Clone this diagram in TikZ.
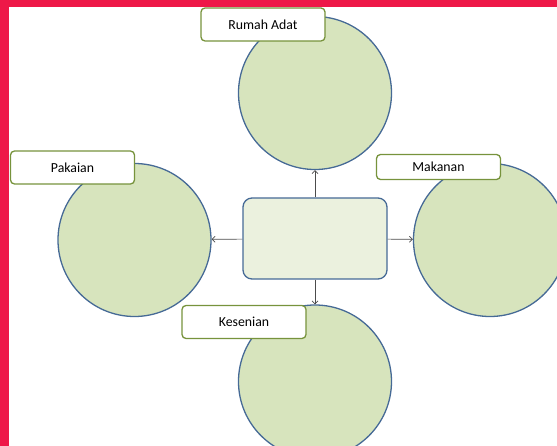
\documentclass[tikz,border=0pt]{standalone}
\usepackage{fontspec}
\setmainfont{Carlito}
\usetikzlibrary{arrows.meta}
\definecolor{merah}{RGB}{238,24,72}
\definecolor{hijaumuda}{RGB}{215,228,189}
\definecolor{hijaupucat}{RGB}{235,241,222}
\definecolor{garisbiru}{RGB}{70,106,150}
\definecolor{garishijau}{RGB}{119,147,60}

\begin{document}
\begin{tikzpicture}[
        x=1pt,y=-1pt,
        lingkaran/.style={circle,draw=garisbiru,line width=1.3pt,fill=hijaumuda,
          minimum size=153pt,inner sep=0pt},
        kotak/.style={rectangle,rounded corners=9pt,draw=garisbiru,line width=1.3pt,
          fill=hijaupucat,minimum width=144pt,minimum height=81pt},
        judul/.style={rectangle,rounded corners=4pt,draw=garishijau,line width=1.3pt,
          fill=white,minimum width=124pt,minimum height=33pt,inner sep=0pt,
          font=\fontsize{13.8}{16}\selectfont},
        panah/.style={-{Straight Barb[length=3pt,width=6pt]},draw=black!70,line width=0.7pt}]
        % batas gambar
        \useasboundingbox (0,0) rectangle (557,446);
        \clip (0,0) rectangle (557,446);
        % bingkai merah
        \fill[merah] (0,0) rectangle (9,446);
        \fill[merah] (0,0) rectangle (557,7);
        % empat lingkaran
        \node[lingkaran] (atas) at (315,93) {};
        \node[lingkaran] (kiri) at (134.5,240) {};
        \node[lingkaran] (kanan) at (490,240) {};
        \node[lingkaran] (bawah) at (315,381.5) {};
        % kotak tengah
        \node[kotak] (pusat) at (315,238.5) {};
        % panah dari kotak ke lingkaran
        \draw[panah] (pusat) -- (atas);
        \draw[panah] (pusat) -- (kiri);
        \draw[panah] (pusat) -- (kanan);
        \draw[panah] (pusat) -- (bawah);
        % label
        \node[judul] (rumah) at (263,24.5) {Rumah Adat};
        \node[judul] (pakaian) at (72.5,167.5) {Pakaian};
        \node[judul,minimum height=25pt] (makanan) at (438.5,167) {Makanan};
        \node[judul] (kesenian) at (244,322) {Kesenian};
      \end{tikzpicture}
\end{document}
